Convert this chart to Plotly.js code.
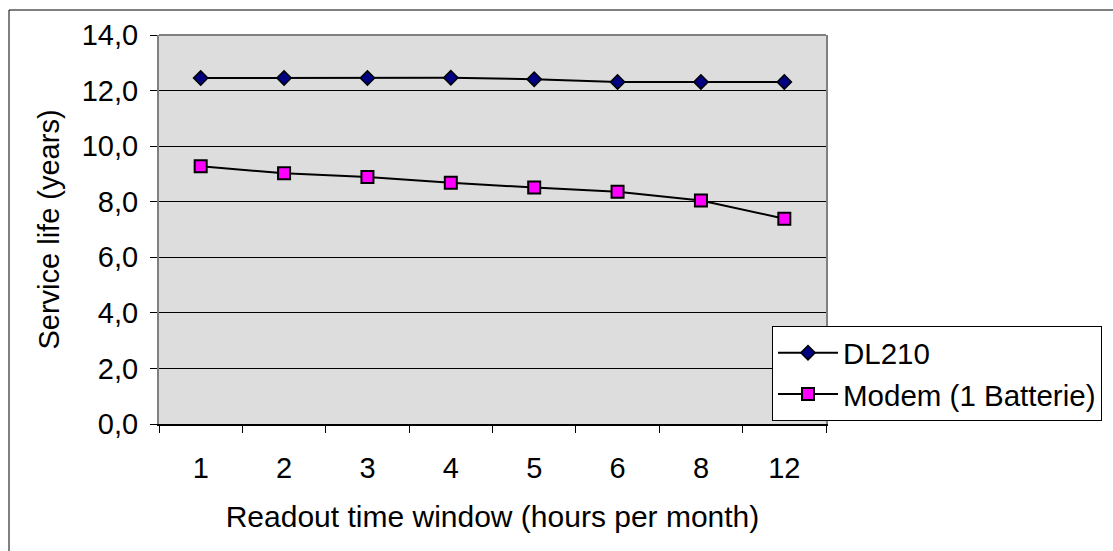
<!DOCTYPE html>
<html>
<head>
<meta charset="utf-8">
<script src="https://cdn.plot.ly/plotly-3.0.1.min.js"></script>
<style>html,body{margin:0;padding:0;background:#fff;}#chart{width:1113px;height:551px;}</style>
</head>
<body>
<div id="chart"></div>
<script>
const categories = ['1', '2', '3', '4', '5', '6', '8', '12'];
const dl210 = [12.45, 12.45, 12.45, 12.46, 12.41, 12.31, 12.31, 12.31];
const modem = [9.28, 9.02, 8.89, 8.68, 8.51, 8.36, 8.04, 7.39];
const seriesNames = ['DL210', 'Modem (1 Batterie)'];
const xTitle = 'Readout time window (hours per month)';
const yTitle = 'Service life (years)';

const font = 'Liberation Sans, Arial, sans-serif';

const traces = [
  {
    x: categories, y: dl210, name: seriesNames[0], type: 'scatter', mode: 'lines+markers',
    line: {color: '#000000', width: 2},
    marker: {symbol: 'diamond', size: 11, color: '#000080', line: {color: '#000000', width: 1.5}}
  },
  {
    x: categories, y: modem, name: seriesNames[1], type: 'scatter', mode: 'lines+markers',
    line: {color: '#000000', width: 2},
    marker: {symbol: 'square', size: 12, color: '#FF00FF', line: {color: '#000000', width: 2}}
  }
];

const W = 667, H = 389, L = 159, T = 35;
const layout = {
  width: 1113, height: 551,
  margin: {l: L, r: 1113 - L - W, t: T, b: 551 - T - H, pad: 0, autoexpand: false},
  paper_bgcolor: '#FFFFFF',
  plot_bgcolor: '#DDDDDD',
  separators: ',.',
  font: {family: font, size: 29, color: '#000000'},
  showlegend: true,
  legend: {
    x: (772 - L) / W, y: (T + H - 326) / H, xanchor: 'left', yanchor: 'top',
    bgcolor: '#FFFFFF', bordercolor: '#000000', borderwidth: 1,
    font: {family: font, size: 29.5, color: '#000000'},
    itemwidth: 60, tracegroupgap: 0
  },
  xaxis: {
    type: 'category', range: [-0.5, 7.5], tickson: 'boundaries',
    showgrid: false, zeroline: false,
    showline: true, linecolor: '#000000', linewidth: 1.5,
    ticks: 'outside', ticklen: 7, tickcolor: '#000000', tickwidth: 1,
    ticklabelstandoff: 18,
    tickfont: {family: font, size: 29, color: '#000000'},
    title: {text: xTitle, font: {family: font, size: 30, color: '#000000'}, standoff: 22},
    automargin: true, fixedrange: true
  },
  yaxis: {
    range: [0, 14], dtick: 2, tick0: 0, tickformat: '.1f',
    showgrid: true, gridcolor: '#000000', gridwidth: 1, zeroline: false,
    showline: true, linecolor: '#808080', linewidth: 2, mirror: true,
    ticks: 'outside', ticklen: 7, tickcolor: '#000000', tickwidth: 1,
    ticklabelstandoff: 6,
    tickfont: {family: font, size: 29, color: '#000000'},
    title: {text: yTitle, font: {family: font, size: 29, color: '#000000'}, standoff: 14},
    automargin: true, fixedrange: true
  },
  shapes: [
    {type: 'line', xref: 'paper', yref: 'paper', x0: 0, x1: 1, y0: 1, y1: 1,
     line: {color: '#808080', width: 2}},
    {type: 'rect', xref: 'paper', yref: 'paper', layer: 'below',
     x0: (9 - L) / W, x1: (1120 - L) / W, y0: (T + H - 560) / H, y1: 1 + (T - 10) / H,
     line: {color: '#000000', width: 1}, fillcolor: 'rgba(0,0,0,0)'}
  ]
};

Plotly.newPlot('chart', traces, layout, {staticPlot: true, displayModeBar: false});
</script>
</body>
</html>
